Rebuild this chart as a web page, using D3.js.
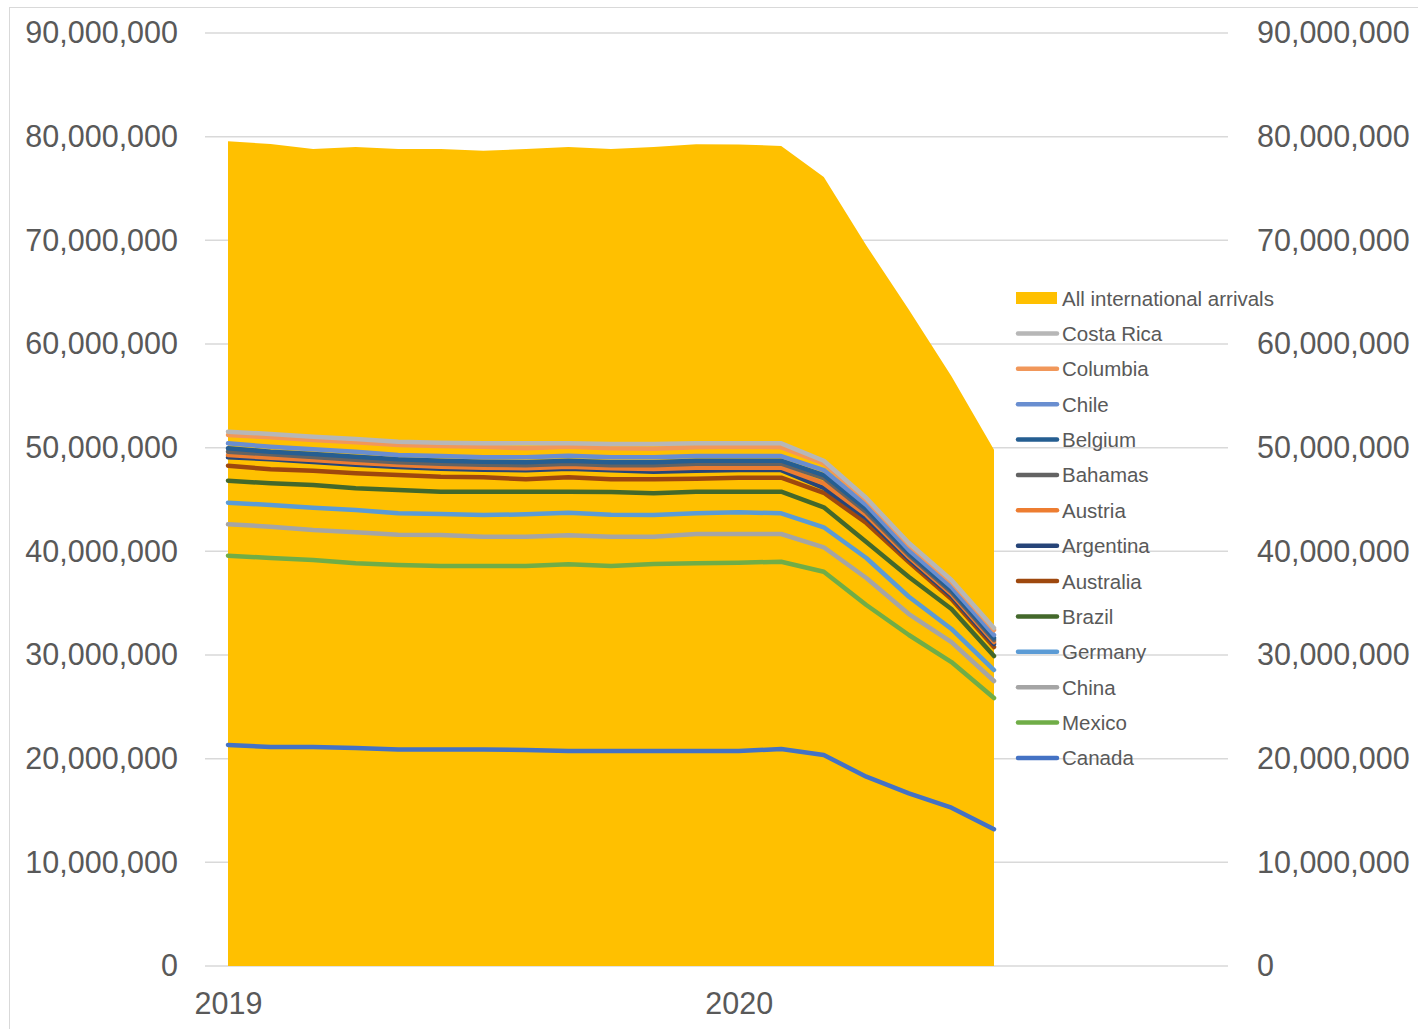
<!DOCTYPE html>
<html>
<head>
<meta charset="utf-8">
<script src="https://cdn.jsdelivr.net/npm/d3@7"></script>
<style>
  body { margin: 0; background: #fff; }
  svg { display: block; font-family: "Liberation Sans", Arial, sans-serif; }
  .axis text { fill: #595959; font-size: 30.5px; }
  .legend text { fill: #595959; font-size: 20.5px; }
</style>
</head>
<body>
<div id="chart"></div>
<script>
// months Jan 2019 .. Jul 2020
var months = ["2019-01","2019-02","2019-03","2019-04","2019-05","2019-06","2019-07","2019-08","2019-09","2019-10","2019-11","2019-12",
              "2020-01","2020-02","2020-03","2020-04","2020-05","2020-06","2020-07"];
var yearTicks = ["2019-01", "2020-01"];
var yearLabels = ["2019", "2020"];

// millions of arrivals
var allArrivals = [79.55,79.3,78.8,79.0,78.8,78.8,78.65,78.8,79.0,78.8,79.0,79.26,79.25,79.1,76.1,69.5,63.3,56.9,49.8];

// stacked line levels as plotted (millions), bottom to top
var canada    = [21.32,21.12,21.12,21.03,20.88,20.88,20.88,20.84,20.74,20.74,20.74,20.74,20.74,20.93,20.35,18.26,16.66,15.27,13.19];
var mexico    = [39.58,39.36,39.16,38.84,38.68,38.58,38.58,38.58,38.75,38.58,38.78,38.84,38.90,39.00,38.03,34.82,31.93,29.32,25.85];
var china     = [42.61,42.38,42.06,41.84,41.60,41.57,41.41,41.41,41.55,41.41,41.41,41.67,41.67,41.67,40.39,37.43,33.95,31.25,27.49];
var germany   = [44.69,44.47,44.21,43.99,43.67,43.60,43.50,43.57,43.73,43.53,43.50,43.67,43.76,43.67,42.32,39.36,35.62,32.51,28.55];
var brazil    = [46.81,46.56,46.40,46.08,45.92,45.75,45.75,45.75,45.75,45.72,45.60,45.75,45.75,45.75,44.25,40.90,37.52,34.44,29.90];
var australia = [48.26,47.91,47.78,47.53,47.36,47.20,47.14,46.95,47.14,46.95,46.95,47.01,47.10,47.10,45.65,42.73,38.97,35.40,30.77];
var argentina = [49.07,48.88,48.62,48.36,48.13,47.97,47.87,47.82,47.97,47.82,47.68,47.78,47.84,47.84,46.11,43.21,39.26,35.69,31.06];
var austria   = [49.29,49.03,48.81,48.55,48.33,48.16,48.07,48.01,48.16,48.01,47.94,48.07,48.07,48.07,46.56,43.50,39.45,35.88,31.25];
var bahamas   = [49.61,49.36,49.10,48.84,48.59,48.45,48.36,48.30,48.45,48.30,48.30,48.45,48.45,48.45,47.07,43.79,39.65,36.08,31.45];
var belgium   = [49.94,49.61,49.39,49.13,48.88,48.74,48.64,48.59,48.74,48.59,48.59,48.74,48.74,48.74,47.36,44.08,39.84,36.27,31.64];
var chile     = [50.42,50.09,49.84,49.61,49.29,49.19,49.07,49.07,49.22,49.07,49.07,49.19,49.19,49.19,47.84,44.47,40.13,36.56,31.93];
var columbia  = [51.22,51.00,50.74,50.52,50.26,50.16,50.09,49.94,50.09,49.94,49.90,50.03,50.09,50.03,48.49,44.95,40.61,37.04,32.41];
var costaRica = [51.54,51.32,51.06,50.83,50.57,50.48,50.42,50.42,50.42,50.35,50.35,50.42,50.42,50.42,48.74,45.14,40.80,37.23,32.60];

var seriesNames = ["Canada","Mexico","China","Germany","Brazil","Australia","Argentina","Austria","Bahamas","Belgium","Chile","Columbia","Costa Rica"];
var seriesValues = [canada, mexico, china, germany, brazil, australia, argentina, austria, bahamas, belgium, chile, columbia, costaRica];
var areaName = "All international arrivals";

var colors = {
  "Canada": "#4472C4", "Mexico": "#70AD47", "China": "#A5A5A5", "Germany": "#5B9BD5",
  "Brazil": "#43682B", "Australia": "#9E480E", "Argentina": "#264478", "Austria": "#ED7D31",
  "Bahamas": "#636363", "Belgium": "#255E91", "Chile": "#698ED0", "Columbia": "#F1975A",
  "Costa Rica": "#B7B7B7"
};
var areaColor = "#FFC000";

var width = 1418, height = 1029;

var svg = d3.select("#chart").append("svg")
    .attr("width", width)
    .attr("height", height);

// outer chart border
svg.append("rect")
    .attr("x", 9.5).attr("y", 7.5)
    .attr("width", width + 20).attr("height", height + 20)
    .attr("fill", "none")
    .attr("stroke", "#D9D9D9");

var x = d3.scalePoint()
    .domain(months)
    .range([228, 994]);

var y = d3.scaleLinear()
    .domain([0, 90e6])
    .range([966, 33]);

var gridLeft = 205, gridRight = 1228;

// gridlines
svg.append("g")
    .selectAll("line")
    .data(y.ticks(9))
    .enter()
    .append("line")
    .attr("x1", gridLeft).attr("x2", gridRight)
    .attr("y1", d => y(d)).attr("y2", d => y(d))
    .attr("stroke", "#D9D9D9")
    .attr("stroke-width", 1.5);

// left + right axes
var fmt = d3.format(",");
var leftAxis = svg.append("g")
    .attr("class", "axis")
    .attr("transform", "translate(" + gridLeft + ",0)")
    .call(d3.axisLeft(y).ticks(9).tickFormat(fmt).tickSize(0).tickPadding(27));
var rightAxis = svg.append("g")
    .attr("class", "axis")
    .attr("transform", "translate(" + gridRight + ",0)")
    .call(d3.axisRight(y).ticks(9).tickFormat(fmt).tickSize(0).tickPadding(29));
var bottomAxis = svg.append("g")
    .attr("class", "axis")
    .attr("transform", "translate(0," + y(0) + ")")
    .call(d3.axisBottom(x).tickValues(yearTicks)
        .tickFormat((d, i) => yearLabels[i]).tickSize(0).tickPadding(26));
svg.selectAll(".axis .domain").remove();
svg.selectAll(".axis text").attr("font-family", null).attr("font-size", null);

// area for all arrivals
var area = d3.area()
    .x((d, i) => x(months[i]))
    .y0(y(0))
    .y1(d => y(d * 1e6));

svg.append("path")
    .datum(allArrivals)
    .attr("d", area)
    .attr("fill", areaColor);

// stacked country lines
var line = d3.line()
    .x((d, i) => x(months[i]))
    .y(d => y(d * 1e6));

svg.append("g")
    .selectAll("path")
    .data(seriesValues)
    .enter()
    .append("path")
    .attr("d", line)
    .attr("fill", "none")
    .attr("stroke", (d, i) => colors[seriesNames[i]])
    .attr("stroke-width", 4.5)
    .attr("stroke-linecap", "round")
    .attr("stroke-linejoin", "round");

// legend
var legendItems = [areaName].concat(seriesNames.slice().reverse());
var legend = svg.append("g")
    .attr("class", "legend")
    .selectAll("g")
    .data(legendItems)
    .enter()
    .append("g")
    .attr("transform", (d, i) => "translate(1016," + (298 + i * 35.38) + ")");

legend.each(function(d, i) {
  var g = d3.select(this);
  if (i === 0) {
    g.append("rect")
      .attr("x", 0).attr("y", -6)
      .attr("width", 41).attr("height", 12)
      .attr("fill", areaColor);
  } else {
    g.append("line")
      .attr("x1", 2).attr("x2", 41)
      .attr("y1", 0).attr("y2", 0)
      .attr("stroke", colors[d])
      .attr("stroke-width", 4.5)
      .attr("stroke-linecap", "round");
  }
  g.append("text")
    .attr("x", 46)
    .attr("y", 7.5)
    .text(d);
});
</script>
</body>
</html>
